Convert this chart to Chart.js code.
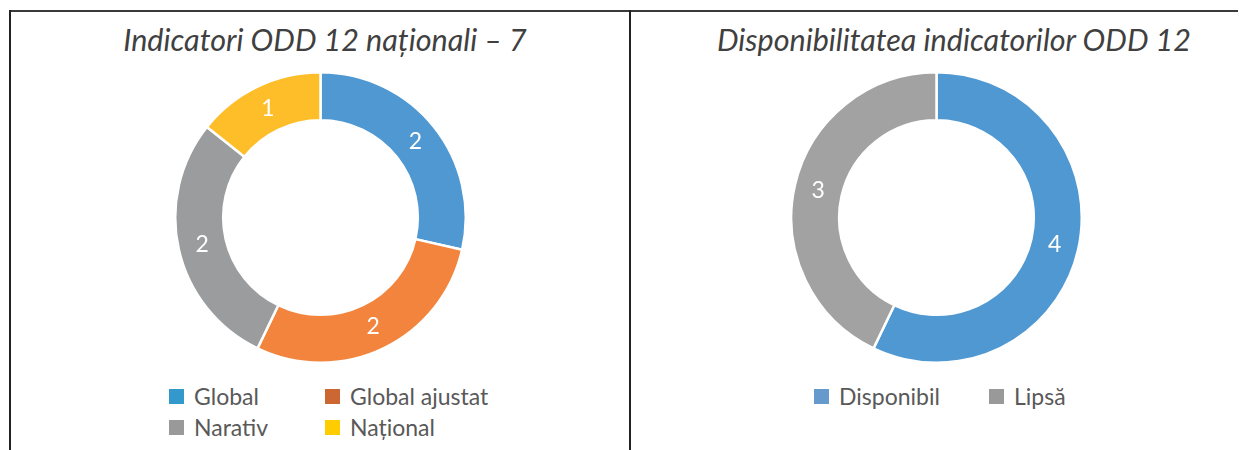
<!DOCTYPE html>
<html>
<head>
<meta charset="utf-8">
<title>Indicatori ODD 12</title>
<script src="https://cdn.jsdelivr.net/npm/chart.js@4.4.1/dist/chart.umd.min.js"></script>
<style>
  html, body { margin: 0; padding: 0; background: #fff; }
  body { width: 1239px; height: 450px; position: relative; overflow: hidden; font-family: Lato, "Open Sans", sans-serif; }
  /* rama tabelului */
  #topLine { position: absolute; left: 9px; top: 10px; width: 1229px; height: 2px; background: #3a3a3a; }
  .vLine { position: absolute; top: 10px; width: 2px; height: 440px; background: #222; }
  .title { position: absolute; top: 22px; line-height: 34px; font-style: italic; font-size: 30.5px; color: #404040; white-space: nowrap; transform: translateX(-50%); }
  .donut { position: absolute; }
  .legend { position: absolute; font-size: 23px; color: #595959; }
  .legend .item { position: absolute; white-space: nowrap; line-height: 26px; }
  .legend .box { position: absolute; left: 0; top: 4px; width: 15px; height: 15px; }
  .legend .txt { position: absolute; left: 25px; top: -2px; }
</style>
</head>
<body>
<div id="topLine"></div>
<div class="vLine" style="left: 9px;"></div>
<div class="vLine" style="left: 629px;"></div>

<div class="title" id="titleLeft" style="left: 325px;"></div>
<div class="title" id="titleRight" style="left: 954px;"></div>

<div class="donut" style="left: 174px; top: 71px; width: 293px; height: 293px;"><canvas id="chartLeft"></canvas></div>
<div class="donut" style="left: 790px; top: 71px; width: 293px; height: 293px;"><canvas id="chartRight"></canvas></div>

<div class="legend" id="legendLeft" style="left: 169px; top: 385px;"></div>
<div class="legend" id="legendRight" style="left: 814px; top: 385px;"></div>

<script>
// Date - graficul din stânga
const titleLeft = 'Indicatori ODD 12 naționali – 7';
const leftLabels = ['Global', 'Global ajustat', 'Narativ', 'Național'];
const leftValues = [2, 2, 2, 1];
const leftColors = ['#4F98D2', '#F2843D', '#9A9C9D', '#FDBE2A'];
const leftLegendColors = ['#3399CC', '#CC6633', '#999999', '#FFCC00'];

// Date - graficul din dreapta
const titleRight = 'Disponibilitatea indicatorilor ODD 12';
const rightLabels = ['Disponibil', 'Lipsă'];
const rightValues = [4, 3];
const rightColors = ['#5098D2', '#A2A2A2'];
const rightLegendColors = ['#6699CC', '#999999'];

// Etichete cu valori în interiorul inelului
const valueLabels = {
    id: 'valueLabels',
    afterDatasetsDraw(chart) {
        const ctx = chart.ctx;
        const meta = chart.getDatasetMeta(0);
        const values = chart.data.datasets[0].data;
        ctx.save();
        ctx.fillStyle = '#ffffff';
        ctx.font = '23px Lato, "Open Sans", sans-serif';
        ctx.textAlign = 'center';
        ctx.textBaseline = 'middle';
        meta.data.forEach((arc, i) => {
            const p = arc.tooltipPosition();
            ctx.fillText(String(values[i]), p.x, p.y);
        });
        ctx.restore();
    }
};

function renderDonut(canvasId, labels, values, colors) {
    const ctx = document.getElementById(canvasId).getContext('2d');
    return new Chart(ctx, {
        type: 'doughnut',
        data: {
            labels: labels,
            datasets: [{
                data: values,
                backgroundColor: colors,
                borderColor: '#ffffff',
                borderWidth: 2.5
            }]
        },
        options: {
            responsive: true,
            maintainAspectRatio: false,
            animation: false,
            cutout: '67%',
            layout: { padding: 0 },
            plugins: {
                legend: { display: false },
                tooltip: { enabled: false }
            }
        },
        plugins: [valueLabels]
    });
}

// Legenda - construită din aceleași liste
function renderLegend(containerId, labels, colors, colWidth, perRow) {
    const el = document.getElementById(containerId);
    labels.forEach((label, i) => {
        const item = document.createElement('div');
        item.className = 'item';
        item.style.left = (i % perRow) * colWidth + 'px';
        item.style.top = Math.floor(i / perRow) * 31 + 'px';
        const box = document.createElement('span');
        box.className = 'box';
        box.style.background = colors[i];
        const txt = document.createElement('span');
        txt.className = 'txt';
        txt.textContent = label;
        item.appendChild(box);
        item.appendChild(txt);
        el.appendChild(item);
    });
}

document.getElementById('titleLeft').textContent = titleLeft;
document.getElementById('titleRight').textContent = titleRight;

renderDonut('chartLeft', leftLabels, leftValues, leftColors);
renderDonut('chartRight', rightLabels, rightValues, rightColors);

renderLegend('legendLeft', leftLabels, leftLegendColors, 156, 2);
renderLegend('legendRight', rightLabels, rightLegendColors, 175, 2);
</script>
</body>
</html>
